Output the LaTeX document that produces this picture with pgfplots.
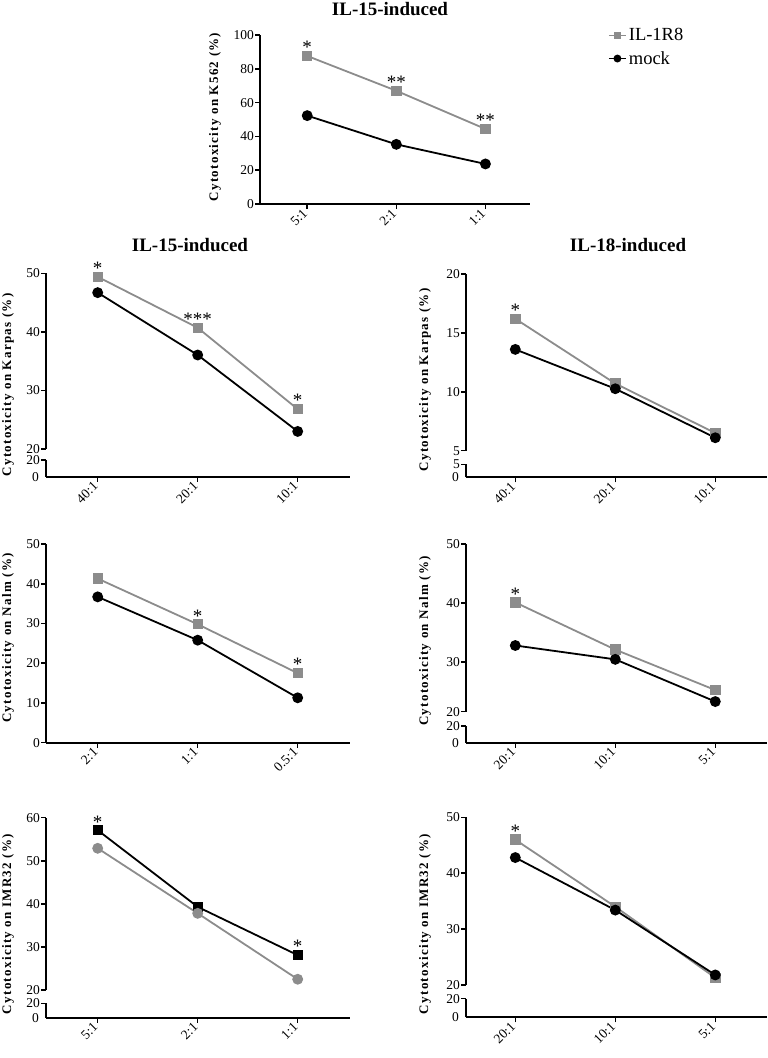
\documentclass[border=0pt]{standalone}
\usepackage{fontspec}
\setmainfont{Liberation Serif}
\usepackage{pgfplots}
\pgfplotsset{compat=1.18}
\definecolor{gr}{RGB}{140,140,140}
\newcommand\tk{\fontsize{13.5}{15}\selectfont}
\newcommand\lab{\fontsize{13}{15}\selectfont\bfseries\addfontfeature{LetterSpace=10}}
\newcommand\ttl{\fontsize{19}{21}\selectfont\bfseries}

\tikzset{aster/.style={font=\fontsize{19}{19}\selectfont, anchor=south, inner sep=0pt, yshift=2pt}}
\pgfplotsset{
  every non boxed x axis/.append style={x axis line style={-}, xtick align=outside},
  every non boxed y axis/.append style={y axis line style={-}, ytick align=outside},
  base/.style={scale only axis, clip=false, anchor=south west,
    axis line style={line width=1.8pt},
    every tick/.style={black, line width=1.5pt},
    major tick length=5pt,
    ticklabel style={font=\tk, inner sep=1pt},
    /pgf/number format/assume math mode=true,
    xtick={0,1,2}},
  xrot/.style={xticklabel style={rotate=45, anchor=east, inner sep=3pt}},
  upper/.style={base, axis y line=left, axis x line=none, xtick=\empty},
  lower/.style={base, xrot, axis y line=left, axis x line=bottom, ymin=0,
    extra y ticks={0},
    extra y tick style={major tick length=0pt, tick label style={xshift=-6pt}}},
  left panel/.style={width=304pt, xmin=-0.517, xmax=2.523},
  right panel/.style={width=300.7pt, xmin=-0.493, xmax=2.514},
  r8/.style={gr, line width=1.8pt, mark=square*, mark size=4.3pt},
  mk/.style={black, line width=1.8pt, mark=*, mark size=4.5pt},
}

\begin{document}
\begin{tikzpicture}
\path[use as bounding box] (0,0) rectangle (768pt,-1058pt);

% ---- top: K562, IL-15
\node[font=\ttl] at (390pt,-9pt) {IL-15-induced};
\begin{axis}[base, xrot, axis y line=left, axis x line=bottom,
  at={(260pt,-204pt)}, width=270pt, height=169pt,
  xmin=-0.53, xmax=2.5, ymin=0, ymax=100, ytick={0,20,...,100},
  xticklabels={5:1,2:1,1:1},
  legend style={at={(1.277,1.063)}, anchor=north west, draw=none, fill=none,
    font=\fontsize{18.5}{20}\selectfont, row sep=5pt},
  legend image post style={mark size=3pt},
  legend cell align=left]
\addplot[r8] coordinates {(0,87.6) (1,67.0) (2,44.4)};
\addlegendentry{IL-1R8}
\addplot[mk] coordinates {(0,52.3) (1,35.3) (2,23.7)};
\addlegendentry{mock}
\node[aster] at (axis cs:0,87.6) {*};
\node[aster] at (axis cs:1,67.0) {**};
\node[aster] at (axis cs:2,44.4) {**};
\end{axis}
\node[rotate=90, font=\lab] at (215pt,-117pt) {Cytotoxicity on K562 (\%)};

% ---- Karpas, IL-15
\node[font=\ttl] at (190pt,-245pt) {IL-15-induced};
\begin{axis}[upper, left panel, at={(46pt,-449pt)}, height=175.7pt,
  ymin=20, ymax=50, ytick={20,30,40,50}]
\addplot[r8] coordinates {(0,49.4) (1,40.7) (2,26.8)};
\addplot[mk] coordinates {(0,46.7) (1,36.05) (2,23.0)};
\node[aster] at (axis cs:0,49.4) {*};
\node[aster] at (axis cs:1,40.7) {***};
\node[aster] at (axis cs:2,26.8) {*};
\end{axis}
\begin{axis}[lower, left panel, at={(46pt,-476.7pt)}, height=16.7pt,
  ymax=20, ytick={20}, xticklabels={40:1,20:1,10:1}]
\end{axis}
\node[rotate=90, font=\lab] at (8pt,-385pt) {Cytotoxicity on Karpas (\%)};

% ---- Karpas, IL-18
\node[font=\ttl] at (628pt,-245pt) {IL-18-induced};
\begin{axis}[upper, right panel, at={(466pt,-450.7pt)}, height=176.7pt,
  ymin=5, ymax=20, ytick={5,10,15,20}]
\addplot[r8] coordinates {(0,16.2) (1,10.7) (2,6.5)};
\addplot[mk] coordinates {(0,13.6) (1,10.26) (2,6.1)};
\node[aster] at (axis cs:0,16.2) {*};
\end{axis}
\begin{axis}[lower, right panel, at={(466pt,-477.3pt)}, height=13pt,
  ymax=5, ytick={5}, xticklabels={40:1,20:1,10:1}]
\end{axis}
\node[rotate=90, font=\lab] at (425pt,-380pt) {Cytotoxicity on Karpas (\%)};

% ---- Nalm, IL-15
\begin{axis}[base, xrot, left panel, axis y line=left, axis x line=bottom,
  at={(46pt,-742.7pt)}, height=198.7pt,
  ymin=0, ymax=50, ytick={0,10,...,50},
  xticklabels={2:1,1:1,0.5:1}]
\addplot[r8] coordinates {(0,41.3) (1,29.8) (2,17.5)};
\addplot[mk] coordinates {(0,36.7) (1,25.8) (2,11.3)};
\node[aster] at (axis cs:1,29.8) {*};
\node[aster] at (axis cs:2,17.5) {*};
\end{axis}
\node[rotate=90, font=\lab] at (8pt,-638pt) {Cytotoxicity on Nalm (\%)};

% ---- Nalm, IL-18
\begin{axis}[upper, right panel, at={(466pt,-711.7pt)}, height=167.7pt,
  ymin=21.58, ymax=50, ytick={21.58,30,40,50}, yticklabels={20,30,40,50}]
\addplot[r8] coordinates {(0,40.1) (1,32.1) (2,25.25)};
\addplot[mk] coordinates {(0,32.8) (1,30.45) (2,23.3)};
\node[aster] at (axis cs:0,40.1) {*};
\end{axis}
\begin{axis}[lower, right panel, at={(466pt,-742.7pt)}, height=16.7pt,
  ymax=20, ytick={20}, xticklabels={20:1,10:1,5:1}]
\end{axis}
\node[rotate=90, font=\lab] at (425pt,-641pt) {Cytotoxicity on Nalm (\%)};

% ---- IMR32, IL-15
\begin{axis}[upper, left panel, at={(46pt,-990pt)}, height=172.3pt,
  ymin=20, ymax=60, ytick={20,30,...,60}]
\addplot[black, line width=1.8pt, mark=square*, mark size=4.3pt]
  coordinates {(0,57.1) (1,39.3) (2,28.1)};
\addplot[gr, line width=1.8pt, mark=*, mark size=4.5pt]
  coordinates {(0,52.9) (1,37.8) (2,22.5)};
\node[aster] at (axis cs:0,57.1) {*};
\node[aster] at (axis cs:2,28.1) {*};
\end{axis}
\begin{axis}[lower, left panel, at={(46pt,-1017.7pt)}, height=14.4pt,
  ymax=20, ytick={20}, xticklabels={5:1,2:1,1:1}]
\end{axis}
\node[rotate=90, font=\lab] at (8pt,-924pt) {Cytotoxicity on IMR32 (\%)};

% ---- IMR32, IL-18
\begin{axis}[upper, right panel, at={(466pt,-985pt)}, height=167.7pt,
  ymin=20, ymax=50, ytick={20,30,40,50}]
\addplot[r8] coordinates {(0,46.0) (1,34.0) (2,21.3)};
\addplot[mk] coordinates {(0,42.8) (1,33.4) (2,21.8)};
\node[aster] at (axis cs:0,46.0) {*};
\end{axis}
\begin{axis}[lower, right panel, at={(466pt,-1017.3pt)}, height=18.6pt,
  ymax=20, ytick={20}, xticklabels={20:1,10:1,5:1}]
\end{axis}
\node[rotate=90, font=\lab] at (425pt,-924pt) {Cytotoxicity on IMR32 (\%)};

\end{tikzpicture}
\end{document}
